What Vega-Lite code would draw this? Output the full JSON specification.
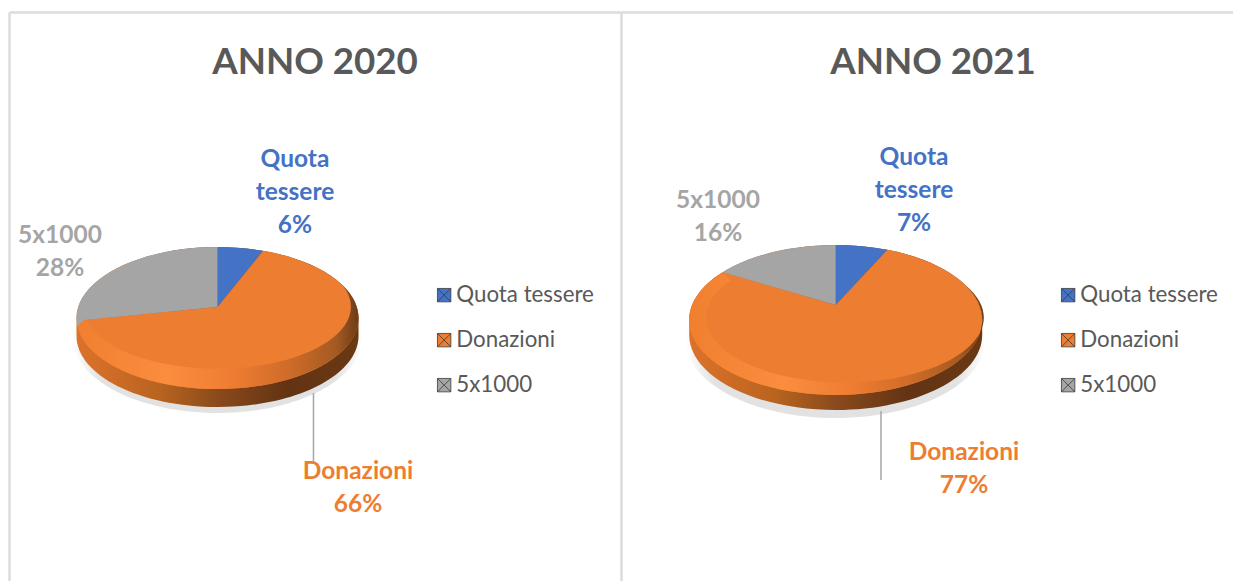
{
"$schema":"https://vega.github.io/schema/vega-lite/v6.json",
"background":"#ffffff",
"padding":{"left":9,"top":12,"right":0,"bottom":0},
"autosize":{"type":"pad"},
"spacing":0,
"config":{"view":{"stroke":null},"font":"Lato","axis":{"grid":false,"ticks":false,"labels":false,"title":null,"domainColor":"#dcdcdc","domainWidth":2.5},
"legend":{"orient":"none","title":null,"symbolType":"M-1,-1H1V1H-1Z M-1,-1L1,1 M1,-1L-1,1","symbolSize":180,"symbolStrokeColor":"#3a3a3a","symbolStrokeWidth":0.8,"symbolOpacity":1,"labelFont":"Lato","labelFontSize":22.3,"labelColor":"#595959","labelOffset":1,"rowPadding":22,"labelLimit":200,"legendY":272}},
"data":{"values":[
{"anno":"ANNO 2020","voce":"Quota tessere","quota":6,"etichetta":"Quota\ntessere\n6%"},
{"anno":"ANNO 2020","voce":"Donazioni","quota":66,"etichetta":"Donazioni\n66%"},
{"anno":"ANNO 2020","voce":"5x1000","quota":28,"etichetta":"5x1000\n28%"},
{"anno":"ANNO 2021","voce":"Quota tessere","quota":7,"etichetta":"Quota\ntessere\n7%"},
{"anno":"ANNO 2021","voce":"Donazioni","quota":77,"etichetta":"Donazioni\n77%"},
{"anno":"ANNO 2021","voce":"5x1000","quota":16,"etichetta":"5x1000\n16%"}
]},
"resolve":{"scale":{"color":"independent","shape":"independent","x":"independent","y":"independent"},"legend":{"color":"independent"}},
"hconcat":[
{"width":612,"height":569,
"title":{"text":"ANNO 2020","orient":"top","anchor":"middle","offset":-70,"fontSize":36.7,"fontWeight":"bold","color":"#595959","font":"Lato"},
"transform":[{"filter":"datum.anno==='ANNO 2020'"}],
"encoding":{"x":{"datum":34.07,"type":"quantitative","scale":{"domain":[0,100]},"axis":{"orient":"top"}},"y":{"datum":51.85,"type":"quantitative","scale":{"domain":[100,0]},"axis":{"orient":"left"}}},
"layer":[
{"transform":[{"filter":"datum.voce==='Donazioni'"}],"mark":{"type":"point","filled":true,"opacity":1,"size":4,"strokeWidth":0,"shape":"M-145,30A145,76 0 1 1 145,30A145,76 0 1 1 -145,30Z","fill":{"gradient":"radial","stops":[{"offset":0.85,"color":"#e2e2e2"},{"offset":1,"color":"#ffffff"}]}}},
{"transform":[{"filter":"datum.voce==='Donazioni'"}],"mark":{"type":"rule","color":"#a6a6a6","strokeWidth":1.5},"encoding":{"x":{"datum":49.75,"type":"quantitative","scale":{"domain":[0,100]},"axis":{"orient":"top"}},"y":{"datum":66.96,"type":"quantitative","scale":{"domain":[100,0]},"axis":{"orient":"left"}},"y2":{"datum":79.26}}},
{"transform":[{"filter":"datum.voce==='Donazioni'"}],"mark":{"type":"point","filled":true,"opacity":1,"size":4,"strokeWidth":0,"shape":"M-141,11L-141,29A141,71 0 0 0 141,29L141,11A141,71 0 0 0 -141,11Z","fill":{"x1":0,"y1":0,"x2":1,"y2":0,"gradient":"linear","stops":[{"offset":0,"color":"#dc722b"},{"offset":0.3,"color":"#b8631f"},{"offset":0.5,"color":"#8a4a1c"},{"offset":0.75,"color":"#633313"},{"offset":1,"color":"#6a3814"}]}}},
{"mark":{"type":"point","filled":true,"opacity":1,"size":0},
 "encoding":{"color":{"field":"voce","type":"nominal","sort":null,"scale":{"domain":["Quota tessere","Donazioni","5x1000"],"range":["#4472C4","#ED7D31","#A5A5A5"]},"legend":{"legendX":424}}}},
{"mark":{"type":"point","filled":true,"opacity":1,"size":4,"strokeWidth":0},
 "encoding":{
 "color":{"field":"voce","type":"nominal","sort":null,"scale":{"domain":["Quota tessere","Donazioni","5x1000"],"range":["#4472C4","#ED7D31","#A5A5A5"]},"legend":null},
 "shape":{"field":"quota","type":"nominal","legend":null,"scale":{"domain":[6,66,28],"range":[
 "M0,0L0,-60A141,71 0 0 1 45.5,-56.2Z",
 "M0,0L45.5,-56.2A141,71 0 1 1 -140,19.4L-133,13Z",
 "M0,0L-133,13L-140,19.4A141,71 0 0 1 0,-60Z"]}}}},
{"transform":[{"filter":"datum.voce==='Donazioni'"}],"mark":{"type":"point","filled":true,"opacity":1,"size":4,"strokeWidth":0,"shape":"M-140,19.4A141,71 0 1 0 125,-21.9A134,62 0 1 1 -131,14Z","fill":{"x1":0,"y1":0,"x2":1,"y2":0,"gradient":"linear","stops":[{"offset":0,"color":"#f0802f"},{"offset":0.32,"color":"#fb8d3f"},{"offset":0.55,"color":"#ee7d31"},{"offset":0.75,"color":"#cf6c29"},{"offset":0.92,"color":"#a45a22"},{"offset":1,"color":"#6e3c18"}]}}},
{"transform":[{"filter":"datum.voce==='Quota tessere'"}],"mark":{"type":"text","fontSize":24.5,"fontWeight":"bold","lineHeight":33,"lineBreak":"\n","font":"Lato","color":"#4472C4"},"encoding":{"text":{"field":"etichetta"},"x":{"datum":46.73,"type":"quantitative","scale":{"domain":[0,100]},"axis":{"orient":"top"}},"y":{"datum":25.98,"type":"quantitative","scale":{"domain":[100,0]},"axis":{"orient":"left"}}}},
{"transform":[{"filter":"datum.voce==='Donazioni'"}],"mark":{"type":"text","fontSize":24.5,"fontWeight":"bold","lineHeight":33,"lineBreak":"\n","font":"Lato","color":"#ED7D31"},"encoding":{"text":{"field":"etichetta"},"x":{"datum":57.03,"type":"quantitative","scale":{"domain":[0,100]},"axis":{"orient":"top"}},"y":{"datum":80.91,"type":"quantitative","scale":{"domain":[100,0]},"axis":{"orient":"left"}}}},
{"transform":[{"filter":"datum.voce==='5x1000'"}],"mark":{"type":"text","fontSize":24.5,"fontWeight":"bold","lineHeight":33,"lineBreak":"\n","font":"Lato","color":"#A5A5A5"},"encoding":{"text":{"field":"etichetta"},"x":{"datum":8.33,"type":"quantitative","scale":{"domain":[0,100]},"axis":{"orient":"top"}},"y":{"datum":39.36,"type":"quantitative","scale":{"domain":[100,0]},"axis":{"orient":"left"}}}}
]},
{"width":612,"height":569,
"title":{"text":"ANNO 2021","orient":"top","anchor":"middle","offset":-70,"dx":6,"fontSize":36.7,"fontWeight":"bold","color":"#595959","font":"Lato"},
"transform":[{"filter":"datum.anno==='ANNO 2021'"}],
"encoding":{"x":{"datum":35.08,"type":"quantitative","scale":{"domain":[0,100]},"axis":{"orient":"top"}},"y":{"datum":51.49,"type":"quantitative","scale":{"domain":[100,0]},"axis":{"orient":"left"}}},
"layer":[
{"transform":[{"filter":"datum.voce==='Donazioni'"}],"mark":{"type":"point","filled":true,"opacity":1,"size":4,"strokeWidth":0,"shape":"M-150,35A150,78 0 1 1 150,35A150,78 0 1 1 -150,35Z","fill":{"gradient":"radial","stops":[{"offset":0.85,"color":"#e2e2e2"},{"offset":1,"color":"#ffffff"}]}}},
{"transform":[{"filter":"datum.voce==='Donazioni'"}],"mark":{"type":"rule","color":"#a6a6a6","strokeWidth":1.5},"encoding":{"x":{"datum":42.48,"type":"quantitative","scale":{"domain":[0,100]},"axis":{"orient":"top"}},"y":{"datum":70.12,"type":"quantitative","scale":{"domain":[100,0]},"axis":{"orient":"left"}},"y2":{"datum":82.25}}},
{"transform":[{"filter":"datum.voce==='Donazioni'"}],"mark":{"type":"point","filled":true,"opacity":1,"size":4,"strokeWidth":0,"shape":"M-146.5,15L-146.5,30A146.5,75 0 0 0 146.5,30L146.5,15A146.5,75 0 0 0 -146.5,15Z","fill":{"x1":0,"y1":0,"x2":1,"y2":0,"gradient":"linear","stops":[{"offset":0,"color":"#dc722b"},{"offset":0.3,"color":"#b8631f"},{"offset":0.5,"color":"#8a4a1c"},{"offset":0.75,"color":"#633313"},{"offset":1,"color":"#6a3814"}]}}},
{"mark":{"type":"point","filled":true,"opacity":1,"size":0},
 "encoding":{"color":{"field":"voce","type":"nominal","sort":null,"scale":{"domain":["Quota tessere","Donazioni","5x1000"],"range":["#4472C4","#ED7D31","#A5A5A5"]},"legend":{"legendX":436}}}},
{"mark":{"type":"point","filled":true,"opacity":1,"size":4,"strokeWidth":0},
 "encoding":{
 "color":{"field":"voce","type":"nominal","sort":null,"scale":{"domain":["Quota tessere","Donazioni","5x1000"],"range":["#4472C4","#ED7D31","#A5A5A5"]},"legend":null},
 "shape":{"field":"quota","type":"nominal","legend":null,"scale":{"domain":[7,77,16],"range":[
 "M0,0L0,-60A146.5,75 0 0 1 51.6,-55.2Z",
 "M0,0L51.6,-55.2A146.5,75 0 1 1 -113,-32.7Z",
 "M0,0L-113,-32.7A146.5,75 0 0 1 0,-60Z"]}}}},
{"transform":[{"filter":"datum.voce==='Donazioni'"}],"mark":{"type":"point","filled":true,"opacity":1,"size":4,"strokeWidth":0,"shape":"M-113,-32.7A146.5,75 0 1 0 130,-19.6A139,65 0 1 1 -105,-24.6Z","fill":{"x1":0,"y1":0,"x2":1,"y2":0,"gradient":"linear","stops":[{"offset":0,"color":"#f0802f"},{"offset":0.32,"color":"#fb8d3f"},{"offset":0.55,"color":"#ee7d31"},{"offset":0.75,"color":"#cf6c29"},{"offset":0.92,"color":"#a45a22"},{"offset":1,"color":"#6e3c18"}]}}},
{"transform":[{"filter":"datum.voce==='Quota tessere'"}],"mark":{"type":"text","fontSize":24.5,"fontWeight":"bold","lineHeight":33,"lineBreak":"\n","font":"Lato","color":"#4472C4"},"encoding":{"text":{"field":"etichetta"},"x":{"datum":47.88,"type":"quantitative","scale":{"domain":[0,100]},"axis":{"orient":"top"}},"y":{"datum":25.63,"type":"quantitative","scale":{"domain":[100,0]},"axis":{"orient":"left"}}}},
{"transform":[{"filter":"datum.voce==='Donazioni'"}],"mark":{"type":"text","fontSize":24.5,"fontWeight":"bold","lineHeight":33,"lineBreak":"\n","font":"Lato","color":"#ED7D31"},"encoding":{"text":{"field":"etichetta"},"x":{"datum":56.05,"type":"quantitative","scale":{"domain":[0,100]},"axis":{"orient":"top"}},"y":{"datum":77.56,"type":"quantitative","scale":{"domain":[100,0]},"axis":{"orient":"left"}}}},
{"transform":[{"filter":"datum.voce==='5x1000'"}],"mark":{"type":"text","fontSize":24.5,"fontWeight":"bold","lineHeight":33,"lineBreak":"\n","font":"Lato","color":"#A5A5A5"},"encoding":{"text":{"field":"etichetta"},"x":{"datum":15.85,"type":"quantitative","scale":{"domain":[0,100]},"axis":{"orient":"top"}},"y":{"datum":33.2,"type":"quantitative","scale":{"domain":[100,0]},"axis":{"orient":"left"}}}}
]}
]
}
